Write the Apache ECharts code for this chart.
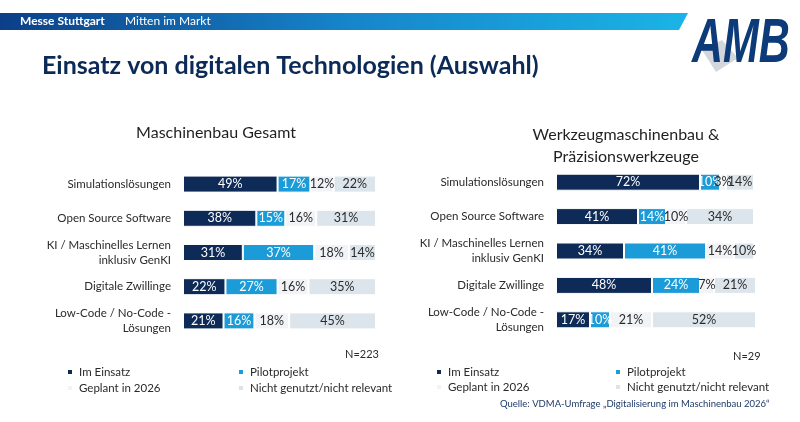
<!DOCTYPE html>
<html>
<head>
<meta charset="utf-8">
<script src="https://cdn.jsdelivr.net/npm/echarts@6/dist/echarts.min.js"></script>
<style>
  html, body { margin: 0; padding: 0; background: #fff; }
  #chart { width: 800px; height: 422px; }
</style>
</head>
<body>
<div id="chart"></div>
<script>
const categories = ["Simulationslösungen", "Open Source Software", "KI / Maschinelles Lernen\ninklusiv GenKI", "Digitale Zwillinge", "Low-Code / No-Code -\nLösungen"];
const seriesNames = ["Im Einsatz", "Pilotprojekt", "Geplant in 2026", "Nicht genutzt/nicht relevant"];
const colors = ["#0e2b57", "#1b9bd7", "#f1f3f6", "#dde5ec"];
const labelColors = ["#ffffff", "#ffffff", "#2b2b2b", "#2b2b2b"];

// Maschinenbau Gesamt (N=223)
const gesamt = [
  [49, 38, 31, 22, 21],
  [17, 15, 37, 27, 16],
  [12, 16, 18, 16, 18],
  [22, 31, 14, 35, 45]
];
// Werkzeugmaschinenbau & Präzisionswerkzeuge (N=29)
const werkzeug = [
  [72, 41, 34, 48, 17],
  [10, 14, 41, 24, 10],
  [3, 10, 14, 7, 21],
  [14, 34, 10, 21, 52]
];

const font = "Lato, 'Open Sans', sans-serif";
const chart = echarts.init(document.getElementById("chart"));

function axisPair(i) {
  return {
    x: { gridIndex: i, type: "value", min: 0, max: 100, show: false },
    y: {
      gridIndex: i, type: "category", inverse: true, data: categories,
      axisLine: { show: false }, axisTick: { show: false },
      axisLabel: { margin: 12, fontSize: 11.5, color: "#2a2a2a", fontFamily: font, align: "right", lineHeight: 15 }
    }
  };
}
const a0 = axisPair(0), a1 = axisPair(1);

function buildSeries(data, idx) {
  return data.map((vals, k) => ({
    name: seriesNames[k],
    type: "bar",
    stack: "s" + idx,
    xAxisIndex: idx,
    yAxisIndex: idx,
    barWidth: 17,
    data: vals,
    itemStyle: { color: colors[k], borderColor: "#fff", borderWidth: 1 },
    label: {
      show: true, position: "inside", formatter: "{c}%",
      color: labelColors[k], fontSize: 12.5, fontFamily: font
    }
  }));
}

function legendItem(name, left, top) {
  return {
    data: [{ name: name, itemStyle: { color: colors[seriesNames.indexOf(name)] } }],
    left: left, top: top, itemWidth: 6, itemHeight: 6, itemGap: 4, icon: "rect",
    textStyle: { fontSize: 11.5, color: "#2a2a2a", fontFamily: font, padding: [0, 0, 0, 1] },
    selectedMode: false
  };
}

chart.setOption({
  animation: false,
  grid: [
    { left: 183, top: 167, width: 193, height: 171 },
    { left: 556, top: 165, width: 200, height: 172 }
  ],
  xAxis: [a0.x, a1.x],
  yAxis: [a0.y, a1.y],
  legend: [
    legendItem("Im Einsatz", 61, 361),
    legendItem("Geplant in 2026", 61, 377),
    legendItem("Pilotprojekt", 232, 361),
    legendItem("Nicht genutzt/nicht relevant", 232, 377),
    legendItem("Im Einsatz", 430, 361),
    legendItem("Geplant in 2026", 430, 376),
    legendItem("Pilotprojekt", 609, 361),
    legendItem("Nicht genutzt/nicht relevant", 609, 376)
  ],
  series: buildSeries(gesamt, 0).concat(buildSeries(werkzeug, 1)),
  graphic: [
    {
      type: "polygon",
      shape: { points: [[0, 13], [688, 13], [679, 30], [0, 30]] },
      style: {
        fill: new echarts.graphic.LinearGradient(0, 0, 1, 0, [
          { offset: 0, color: "#0c3f88" },
          { offset: 0.5, color: "#1684c9" },
          { offset: 1, color: "#1bb4e6" }
        ])
      }
    },
    { type: "text", x: 20, y: 15, style: { text: "Messe Stuttgart", fill: "#fff", font: "bold 12px " + font } },
    { type: "text", x: 125, y: 15, style: { text: "Mitten im Markt", fill: "#fff", font: "12px " + font } },
    {
      type: "polygon",
      shape: { points: [[702, 50], [722, 40], [738, 58], [716, 72]] },
      style: { fill: "#d3d7dc" }
    },
    {
      type: "text", x: 692, y: 14, scaleX: 0.86, scaleY: 1.25,
      style: { text: "AMB", fill: "#0d3a78", font: "italic bold 50px 'Liberation Sans', sans-serif" }
    },
    { type: "text", x: 42, y: 53, style: { text: "Einsatz von digitalen Technologien (Auswahl)", fill: "#0c2a56", font: "bold 25px " + font } },
    { type: "text", x: 216, y: 125, style: { text: "Maschinenbau Gesamt", fill: "#1f1f1f", font: "16px " + font, align: "center" } },
    { type: "text", x: 626, y: 124, style: { text: "Werkzeugmaschinenbau &\nPräzisionswerkzeuge", fill: "#1f1f1f", font: "16px " + font, align: "center", lineHeight: 22 } },
    { type: "text", x: 345, y: 349, style: { text: "N=223", fill: "#2a2a2a", font: "11px " + font } },
    { type: "text", x: 733, y: 351, style: { text: "N=29", fill: "#2a2a2a", font: "11px " + font } },
    { type: "text", x: 500, y: 399, style: { text: "Quelle: VDMA-Umfrage \u201eDigitalisierung im Maschinenbau 2026\u201c", fill: "#1d3a68", font: "9.5px " + font } }
  ]
});
</script>
</body>
</html>
